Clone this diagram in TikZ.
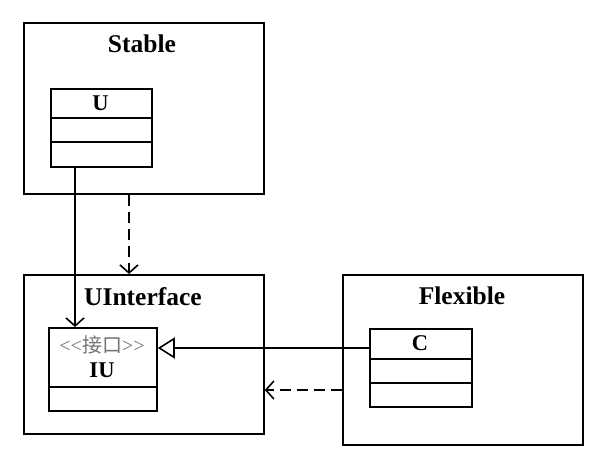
\documentclass[tikz,border=0pt]{standalone}
\usepackage{fontspec}
\setmainfont{Liberation Serif}
\newfontfamily\cjk{Noto Sans CJK SC}
\newfontfamily\stereofont[Ligatures=ResetAll]{Liberation Serif}
\usetikzlibrary{arrows.meta}
\tikzset{
  pkg/.style={draw, line width=1.8pt, rectangle, anchor=north west, inner sep=0pt},
  cls/.style={draw, line width=1.8pt, rectangle, anchor=north west, inner sep=0pt},
  pkglabel/.style={font=\fontsize{25.5}{28}\selectfont\bfseries, inner sep=0pt},
  clslabel/.style={font=\fontsize{22.5}{26}\selectfont\bfseries, inner sep=0pt},
  stereo/.style={font=\fontsize{20}{22}\selectfont\stereofont, text=black!55, inner sep=0pt},
  divider/.style={line width=1.8pt},
  dep/.style={line width=1.6pt, dash pattern=on 11pt off 6pt, -{Straight Barb[length=8pt,width=18pt,line width=1.6pt]}},
  assoc/.style={line width=1.6pt, -{Straight Barb[length=8pt,width=18pt,line width=1.6pt]}},
  real/.style={line width=1.6pt, -{Triangle[open,length=17pt,width=21pt,line width=1.6pt]}},
}
\begin{document}
\begin{tikzpicture}[x=1pt,y=-1pt]
\useasboundingbox[fill=white] (0,0) rectangle (605,460);
% packages
\node[pkg, minimum width=240pt, minimum height=171pt] (Stable) at (23,22) {};
\node[pkg, minimum width=240pt, minimum height=159pt] (UI) at (23,274) {};
\node[pkg, minimum width=240pt, minimum height=170pt] (Flex) at (342,274) {};
\node[pkglabel] (StableL) at (142,44) {Stable};
\node[pkglabel] (UIL) at (143,297) {UInterface};
\node[pkglabel] (FlexL) at (462,296) {Flexible};
% class U
\node[cls, minimum width=101pt, minimum height=78pt] (U) at (50,88) {};
\node[clslabel] (UL) at (100.5,103) {U};
\coordinate (u1) at (0,118);
\coordinate (u2) at (0,142);
\draw[divider] (U.west |- u1) -- (U.east |- u1);
\draw[divider] (U.west |- u2) -- (U.east |- u2);
% class IU
\node[cls, minimum width=108pt, minimum height=83pt] (IU) at (48,327) {};
\node[stereo] (IUS) at (102,345) {<{}<{\cjk 接口}>{}>};
\node[clslabel] (IUL) at (102,370) {IU};
\coordinate (i1) at (0,387);
\draw[divider] (IU.west |- i1) -- (IU.east |- i1);
% class C
\node[cls, minimum width=102pt, minimum height=78pt] (C) at (369,328) {};
\node[clslabel] (CL) at (420,343) {C};
\coordinate (c1) at (0,359);
\coordinate (c2) at (0,383);
\draw[divider] (C.west |- c1) -- (C.east |- c1);
\draw[divider] (C.west |- c2) -- (C.east |- c2);
% connectors
\coordinate (ux) at (75,0);
\coordinate (dx) at (129,0);
\coordinate (ry) at (0,348);
\coordinate (dy) at (0,390);
\draw[assoc] (U.south -| ux) -- (IU.north -| ux);
\draw[dep] (Stable.south -| dx) -- (UI.north -| dx);
\draw[real] (C.west |- ry) -- (IU.east |- ry);
\draw[dep] (Flex.west |- dy) -- (UI.east |- dy);
\end{tikzpicture}
\end{document}
